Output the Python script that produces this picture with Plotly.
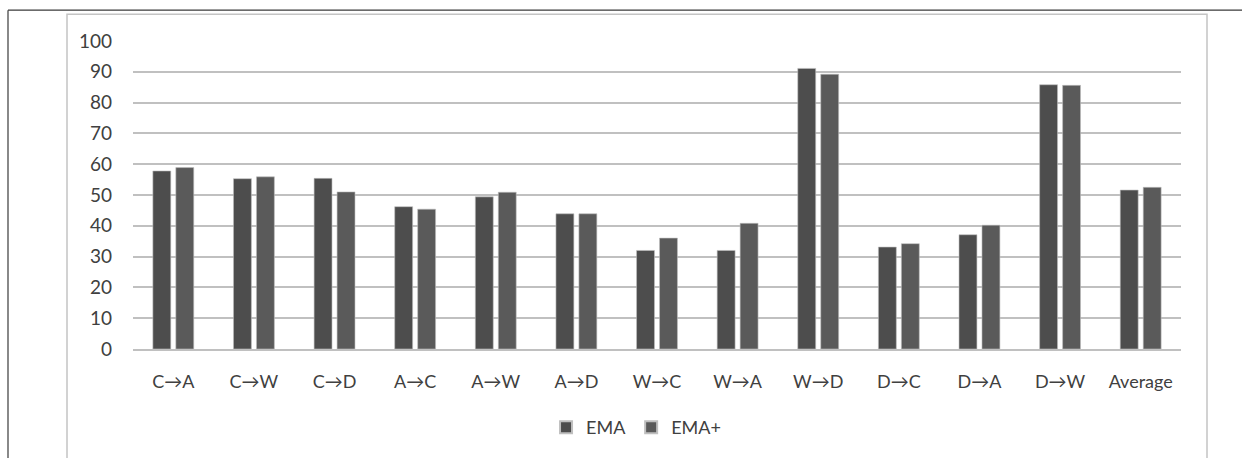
import plotly.graph_objects as go

categories = ["C→A", "C→W", "C→D", "A→C", "A→W", "A→D", "W→C", "W→A",
              "W→D", "D→C", "D→A", "D→W", "Average"]
ema = [57.8, 55.3, 55.4, 46.2, 49.4, 43.9, 32.0, 32.0, 91.1, 33.1, 37.1, 85.8, 51.6]
ema_plus = [58.9, 55.9, 51.0, 45.4, 50.9, 43.9, 36.0, 40.8, 89.2, 34.2, 40.2, 85.6, 52.5]
y_ticks = [0, 10, 20, 30, 40, 50, 60, 70, 80, 90, 100]

W, H = 1242, 458
L, R, T, B = 133, 1181, 41, 351  # plot area in pixels


def px(x):
    return (x - L) / (R - L)


def py(y):
    return (B - y) / (B - T)


FONT = "Lato, 'Open Sans', sans-serif"

fig = go.Figure()
fig.add_trace(go.Bar(name="EMA", x=categories, y=ema,
                     marker=dict(color="#4d4d4d", line=dict(color="#bfbfbf", width=0.6))))
fig.add_trace(go.Bar(name="EMA+", x=categories, y=ema_plus,
                     marker=dict(color="#5a5a5a", line=dict(color="#bfbfbf", width=0.6))))

shapes = [
    # outer frame (dark)
    dict(type="line", xref="paper", yref="paper", x0=px(8), x1=px(1250), y0=py(10), y1=py(10),
         line=dict(color="#3a3a3a", width=1.2)),
    dict(type="line", xref="paper", yref="paper", x0=px(8), x1=px(8), y0=py(10), y1=py(470),
         line=dict(color="#3a3a3a", width=1.2)),
    # inner chart-area frame (light)
    dict(type="rect", xref="paper", yref="paper", x0=px(67), x1=px(1207), y0=py(480), y1=py(14),
         line=dict(color="#c4c4c4", width=1.5), fillcolor="rgba(0,0,0,0)", layer="below"),
]

fig.update_layout(
    width=W, height=H,
    margin=dict(l=L, r=W - R, t=T, b=H - B, pad=0),
    paper_bgcolor="white", plot_bgcolor="white",
    barmode="group", bargap=0.43, bargroupgap=0.22,
    font=dict(family=FONT, color="#404040", size=17),
    showlegend=True,
    legend=dict(orientation="h", x=0.48, xanchor="center", y=py(430), yanchor="middle",
                font=dict(size=18, color="#404040"), itemsizing="constant",
                traceorder="normal", itemwidth=30),
    shapes=shapes,
)
fig.update_xaxes(showgrid=False, showline=True, linecolor="#c0c0c0", linewidth=1.5,
                 ticks="", tickfont=dict(size=18, color="#404040"), ticklabelstandoff=16,
                 fixedrange=True)
fig.update_yaxes(range=[0, 100], tickvals=y_ticks, showgrid=True, gridcolor="#c0c0c0",
                 gridwidth=1.5, zeroline=False, showline=False, ticks="",
                 tickfont=dict(size=19, color="#404040"), ticklabelstandoff=20,
                 fixedrange=True)

fig.write_html("out.html", config={"displayModeBar": False},
               post_script="document.body.style.margin='0';document.body.style.overflow='hidden';")
